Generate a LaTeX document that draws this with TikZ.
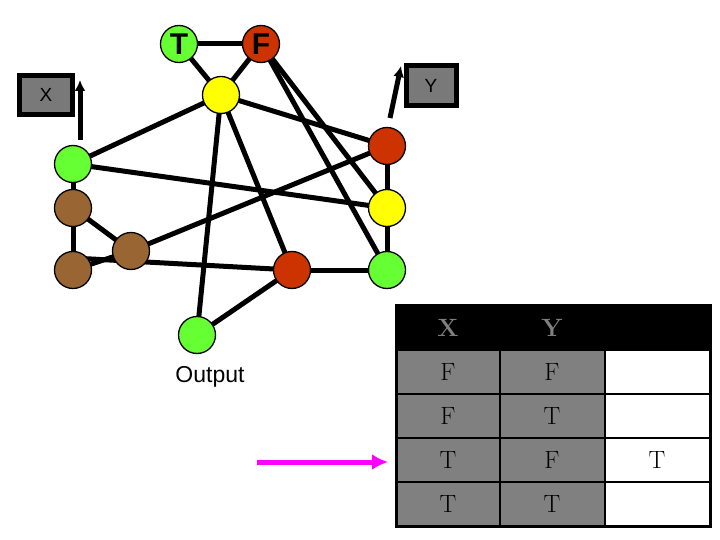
\documentclass[tikz,border=0pt]{standalone}
\usepackage{fontspec}
\setsansfont{Liberation Sans}
\usetikzlibrary{arrows.meta}
\begin{document}
\begin{tikzpicture}[x=1pt,y=-1pt,
  v/.style={circle,draw=black,line width=1.3pt,minimum size=37pt,inner sep=0pt},
  e/.style={line width=5pt},
  box/.style={draw=black,line width=5pt,fill=gray!95!black,font=\sffamily\fontsize{19}{19}\selectfont,inner sep=0pt},
  cell/.style={draw=black,line width=2.5pt}]
\useasboundingbox (0,0) rectangle (720,540);
\definecolor{lg}{RGB}{102,255,51}
\definecolor{rd}{RGB}{204,51,0}
\definecolor{yl}{RGB}{255,255,0}
\definecolor{br}{RGB}{153,102,51}
\definecolor{gr}{RGB}{128,128,128}
\definecolor{mg}{RGB}{255,0,255}
\coordinate (t) at (179,44); \coordinate (f) at (261,44);
\coordinate (y1) at (221,95); \coordinate (g1) at (73,164);
\coordinate (b1) at (73,208); \coordinate (b2) at (131,251); \coordinate (b3) at (73,270);
\coordinate (r1) at (387,146); \coordinate (y2) at (387,208); \coordinate (g2) at (387,270);
\coordinate (r2) at (292,270); \coordinate (o) at (197,335);
\foreach \a/\b in {t/f,t/y1,f/y1,y1/g1,y1/r1,y1/o,y1/r2,f/y2,f/g2,g1/y2,g1/b1,b1/b3,b1/b2,b2/b3,b2/r1,r2/g2,r2/o,r1/y2,y2/g2}
  \draw[e] (\a) -- (\b);
\draw[e] ([yshift=12pt]b3) -- (r2);
\node[v,fill=lg,font=\sffamily\bfseries\fontsize{30}{30}\selectfont] (T) at (t) {T};
\node[v,fill=rd,font=\sffamily\bfseries\fontsize{30}{30}\selectfont] (F) at (f) {F};
\node[v,fill=yl] (Y1) at (y1) {};
\node[v,fill=lg] (G1) at (g1) {};
\node[v,fill=br] (B1) at (b1) {};
\node[v,fill=br] (B2) at (b2) {};
\node[v,fill=br] (B3) at (b3) {};
\node[v,fill=rd] (R1) at (r1) {};
\node[v,fill=yl] (Y2) at (y2) {};
\node[v,fill=lg] (G2) at (g2) {};
\node[v,fill=rd] (R2) at (r2) {};
\node[v,fill=lg] (O) at (o) {};
\node[font=\sffamily\fontsize{23}{23}\selectfont] (out) at (210,377) {Output};
\node[box,minimum width=53pt,minimum height=39pt] (X) at (46,95) {X};
\node[box,minimum width=50pt,minimum height=40pt] (Y) at (431,86) {Y};
\coordinate (xa) at (80,140); \coordinate (xb) at (80,80);
\coordinate (ya) at (390,118); \coordinate (yb) at (401,66);
\draw[line width=5pt,-{Latex[length=11pt,width=11pt]}] (xa) -- (xb);
\draw[line width=5pt,-{Latex[length=11pt,width=11pt]}] (ya) -- (yb);
% table
\fill[black] (396,305) rectangle (710,350);
\foreach \r in {0,1,2,3}{
  \draw[cell,fill=gr] (396,350+44*\r) rectangle (500,394+44*\r);
  \draw[cell,fill=gr] (500,350+44*\r) rectangle (605,394+44*\r);
  \draw[cell,fill=white] (605,350+44*\r) rectangle (710,394+44*\r);}
\draw[line width=3pt] (396,305) rectangle (710,526);
\begin{scope}[every node/.style={font=\fontsize{25}{25}\selectfont}]
\node[text=gr,font=\bfseries\fontsize{25}{25}\selectfont] (hx) at (448,328) {X};
\node[text=gr,font=\bfseries\fontsize{25}{25}\selectfont] (hy) at (552,328) {Y};
\node (a1) at (448,372) {F}; \node (a2) at (552,372) {F};
\node (b1t) at (448,416) {F}; \node (b2t) at (552,416) {T};
\node (c1) at (448,460) {T}; \node (c2) at (552,460) {F}; \node (c3) at (657,460) {T};
\node (d1) at (448,504) {T}; \node (d2) at (552,504) {T};
\end{scope}
\coordinate (ma) at (257,462); \coordinate (mb) at (388,462);
\draw[line width=5pt,mg,-{Latex[length=16pt,width=16pt]}] (ma) -- (mb);
\end{tikzpicture}
\end{document}
